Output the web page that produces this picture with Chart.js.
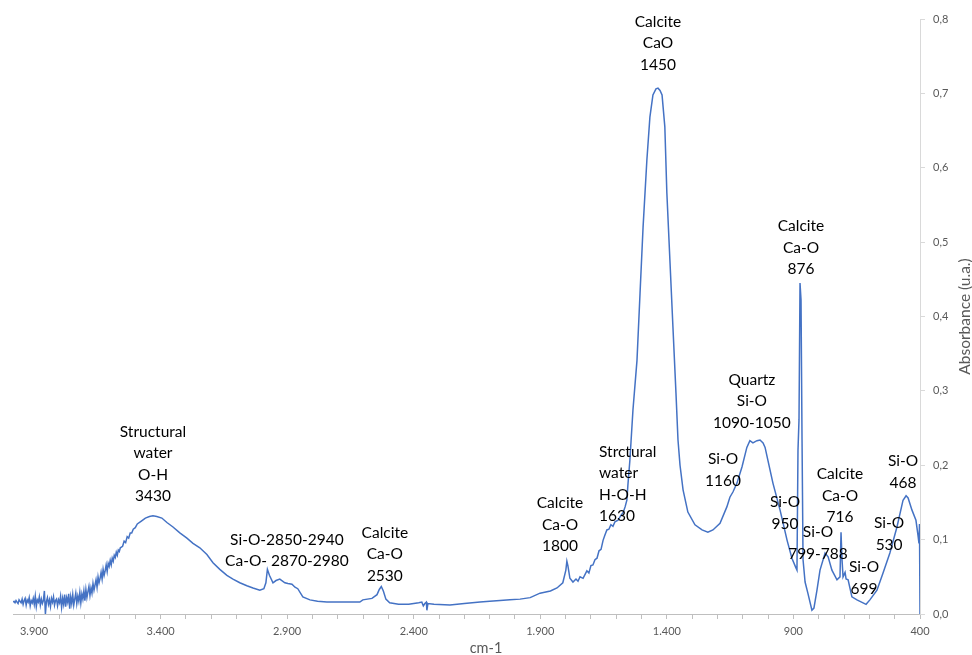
<!DOCTYPE html>
<html>
<head>
<meta charset="utf-8">
<script src="https://cdn.jsdelivr.net/npm/chart.js@4.4.1/dist/chart.umd.min.js"></script>
<style>
  html, body { margin: 0; padding: 0; background: #ffffff; }
  canvas { display: block; }
</style>
</head>
<body>
<canvas id="spectrum" width="972" height="655"></canvas>
<script>
// FTIR spectrum: wavenumber (cm-1) and absorbance (u.a.)
const wavenumbers = [
  3983, 3979, 3975, 3971, 3967, 3963, 3959, 3955, 3951, 3947, 3943, 3939, 3935, 3931, 3927, 3923,
  3919, 3915, 3911, 3907, 3903, 3899, 3895, 3891, 3887, 3883, 3879, 3875, 3871, 3867, 3863, 3859,
  3855, 3851, 3847, 3843, 3839, 3835, 3831, 3827, 3823, 3819, 3815, 3811, 3807, 3803, 3799, 3795,
  3791, 3787, 3783, 3779, 3775, 3771, 3767, 3763, 3759, 3755, 3751, 3747, 3743, 3739, 3735, 3731,
  3727, 3723, 3719, 3715, 3711, 3707, 3703, 3699, 3695, 3691, 3687, 3683, 3679, 3675, 3671, 3667,
  3663, 3659, 3655, 3651, 3647, 3643, 3639, 3635, 3631, 3627, 3623, 3619, 3615, 3611, 3607, 3603,
  3599, 3595, 3591, 3587, 3583, 3579, 3575, 3571, 3567, 3563, 3559, 3550, 3544, 3538, 3532, 3526,
  3520, 3514, 3508, 3500, 3492, 3476, 3460,
  3444, 3430, 3415, 3395, 3375, 3351, 3324, 3296, 3272, 3245, 3217, 3193, 3166, 3138, 3114, 3087,
  3059, 3035, 3008, 2992, 2984, 2978, 2970, 2956, 2944, 2929, 2909, 2897, 2881, 2869, 2858, 2838,
  2810, 2780, 2743, 2700, 2672, 2613, 2601, 2565, 2545, 2536, 2528, 2520, 2510, 2495, 2460, 2420,
  2380, 2368, 2362, 2356, 2350, 2348, 2344, 2320, 2257, 2200, 2138, 2100, 2059, 2020, 1980, 1940,
  1901, 1860, 1834, 1811, 1799, 1795, 1791, 1783, 1771, 1759, 1751, 1743, 1731, 1716, 1708, 1700,
  1692, 1684, 1676, 1668, 1660, 1652, 1645, 1637, 1629, 1621, 1613, 1605, 1593, 1581, 1573, 1565,
  1558, 1554, 1546, 1534, 1518, 1506, 1494, 1479, 1467, 1455, 1443, 1435, 1427, 1419, 1408, 1400,
  1388, 1376, 1364, 1356, 1348, 1336, 1317, 1289, 1261, 1238, 1218, 1190, 1163, 1151, 1139, 1123,
  1103, 1084, 1072, 1060, 1044, 1032, 1020, 1012, 1001, 981, 953, 925, 906, 890, 886, 882,
  878, 874, 870, 866, 862, 854, 843, 827, 819, 807, 795, 775, 763, 748, 728, 716,
  712, 708, 704, 696, 692, 684, 669, 649, 625, 613, 598, 570, 546, 519, 491, 467,
  455, 447, 432, 416, 408, 404, 402, 400
];

const absorbance = [
  0.016, 0.017, 0.015, 0.018, 0.016, 0.014, 0.019, 0.017, 0.015, 0.020, 0.013, 0.018, 0.021, 0.012, 0.019, 0.016,
  0.022, 0.011, 0.018, 0.015, 0.021, 0.013, 0.024, 0.010, 0.019, 0.016, 0.023, 0.012, 0.020, 0.014, 0.018, 0.031,
  0.000, 0.017, 0.022, 0.013, 0.019, 0.010, 0.021, 0.016, 0.023, 0.012, 0.018, 0.020, 0.011, 0.019, 0.015, 0.024,
  0.009, 0.021, 0.013, 0.026, 0.010, 0.022, 0.016, 0.027, 0.007, 0.023, 0.014, 0.026, 0.012, 0.020, 0.028, 0.014,
  0.024, 0.017, 0.029, 0.015, 0.027, 0.020, 0.031, 0.018, 0.033, 0.022, 0.030, 0.037, 0.025, 0.035, 0.028, 0.041,
  0.032, 0.039, 0.046, 0.036, 0.050, 0.042, 0.048, 0.056, 0.047, 0.060, 0.052, 0.058, 0.066, 0.057, 0.068, 0.064,
  0.072, 0.066, 0.075, 0.071, 0.079, 0.076, 0.083, 0.079, 0.086, 0.084, 0.089, 0.091, 0.098, 0.096, 0.104, 0.102,
  0.109, 0.109, 0.114, 0.116, 0.121, 0.125, 0.129,
  0.131, 0.132, 0.131, 0.129, 0.123, 0.117, 0.109, 0.102, 0.095, 0.089, 0.080, 0.069, 0.060, 0.052, 0.047, 0.042,
  0.038, 0.035, 0.032, 0.034, 0.042, 0.060, 0.052, 0.042, 0.045, 0.047, 0.042, 0.041, 0.040, 0.036, 0.034, 0.023,
  0.019, 0.017, 0.016, 0.016, 0.016, 0.016, 0.019, 0.021, 0.026, 0.033, 0.037, 0.031, 0.020, 0.015, 0.013, 0.013,
  0.015, 0.016, 0.011, 0.014, 0.016, 0.005, 0.014, 0.013, 0.012, 0.014, 0.016, 0.017, 0.018, 0.019, 0.020, 0.022,
  0.028, 0.031, 0.035, 0.042, 0.059, 0.071, 0.065, 0.048, 0.043, 0.047, 0.044, 0.050, 0.048, 0.058, 0.055, 0.065,
  0.066, 0.073, 0.075, 0.085, 0.087, 0.099, 0.106, 0.113, 0.114, 0.120, 0.118, 0.124, 0.126, 0.133, 0.136, 0.144,
  0.153, 0.173, 0.207, 0.274, 0.341, 0.431, 0.520, 0.610, 0.668, 0.698, 0.706, 0.707, 0.704, 0.698, 0.655, 0.566,
  0.476, 0.386, 0.297, 0.234, 0.200, 0.167, 0.137, 0.120, 0.113, 0.110, 0.113, 0.122, 0.144, 0.157, 0.164, 0.176,
  0.198, 0.224, 0.233, 0.230, 0.233, 0.234, 0.230, 0.224, 0.207, 0.176, 0.140, 0.099, 0.075, 0.062, 0.059, 0.220,
  0.261, 0.445, 0.422, 0.234, 0.073, 0.043, 0.028, 0.005, 0.008, 0.032, 0.059, 0.082, 0.077, 0.059, 0.046, 0.050,
  0.110, 0.073, 0.050, 0.056, 0.047, 0.046, 0.023, 0.019, 0.015, 0.013, 0.019, 0.032, 0.055, 0.082, 0.117, 0.153,
  0.159, 0.156, 0.140, 0.126, 0.106, 0.095, 0.121, 0.000
];

// labelled tick positions on the wavenumber axis
const xLabelTicks = [3900, 3400, 2900, 2400, 1900, 1400, 900, 400];
// absorbance axis ticks
const yTicks = [0, 0.1, 0.2, 0.3, 0.4, 0.5, 0.6, 0.7, 0.8];

// band assignments, anchored at (wavenumber, absorbance) of the first text line
const bandLabels = [
  { lines: ['Structural', 'water', 'O-H', '3430'], wn: 3430, abs: 0.245 },
  { lines: ['Si-O-2850-2940', 'Ca-O- 2870-2980'], wn: 2901, abs: 0.0995 },
  { lines: ['Calcite', 'Ca-O', '2530'], wn: 2514, abs: 0.109 },
  { lines: ['Calcite', 'Ca-O', '1800'], wn: 1822, abs: 0.149 },
  { lines: ['Strctural', 'water', 'H-O-H', '1630'], wn: 1668, abs: 0.218, align: 'left' },
  { lines: ['Calcite', 'CaO', '1450'], wn: 1435, abs: 0.796 },
  { lines: ['Quartz', 'Si-O', '1090-1050'], wn: 1064, abs: 0.315 },
  { lines: ['Si-O', '1160'], wn: 1178, abs: 0.208 },
  { lines: ['Si-O', '950'], wn: 933, abs: 0.1505 },
  { lines: ['Calcite', 'Ca-O', '876'], wn: 870, abs: 0.5215 },
  { lines: ['Si-O', '799-788'], wn: 803, abs: 0.110 },
  { lines: ['Calcite', 'Ca-O', '716'], wn: 716, abs: 0.188 },
  { lines: ['Si-O', '699'], wn: 621, abs: 0.063 },
  { lines: ['Si-O', '530'], wn: 522, abs: 0.122 },
  { lines: ['Si-O', '468'], wn: 467, abs: 0.2056 }
];

const X_MIN = 400, X_MAX = 3983;
const minorStep = 100;

function formatWavenumber(v) {
  if (v >= 1000) {
    const th = Math.floor(v / 1000);
    return th + '.' + String(v % 1000).padStart(3, '0');
  }
  return String(v);
}

const bandLabelPlugin = {
  id: 'bandLabels',
  afterDraw(chart) {
    const { ctx, scales: { x, y }, chartArea } = chart;
    ctx.save();
    ctx.font = '15.5px Lato';
    ctx.fillStyle = '#000000';
    ctx.textBaseline = 'middle';
    bandLabels.forEach(lbl => {
      const px = x.getPixelForValue(lbl.wn);
      const py = y.getPixelForValue(lbl.abs);
      ctx.textAlign = lbl.align || 'center';
      lbl.lines.forEach((t, i) => ctx.fillText(t, px, py + i * 21.5));
    });

    // axis titles
    ctx.fillStyle = '#595959';
    ctx.font = '14.5px Lato';
    ctx.textAlign = 'center';
    ctx.fillText('cm-1', chart.width / 2, chart.height - 7);
    ctx.font = '15.5px Lato';
    ctx.translate(chart.width - 7, (chartArea.top + chartArea.bottom) / 2);
    ctx.rotate(-Math.PI / 2);
    ctx.fillText('Absorbance (u.a.)', 0, 0);
    ctx.restore();
  }
};

new Chart(document.getElementById('spectrum'), {
  type: 'line',
  data: {
    datasets: [{
      data: wavenumbers.map((w, i) => ({ x: w, y: absorbance[i] })),
      borderColor: '#4472C4',
      borderWidth: 1.5,
      pointRadius: 0,
      tension: 0,
      fill: false
    }]
  },
  options: {
    responsive: false,
    devicePixelRatio: 1,
    animation: false,
    layout: { padding: { left: 13, top: 19, right: 0, bottom: 0 } },
    plugins: {
      legend: { display: false },
      tooltip: { enabled: false }
    },
    scales: {
      x: {
        type: 'linear',
        reverse: true,
        min: X_MIN,
        max: X_MAX,
        afterBuildTicks(scale) {
          const ticks = [];
          for (let v = X_MIN; v <= 3900; v += minorStep) ticks.push({ value: v });
          scale.ticks = ticks;
        },
        afterFit(scale) { scale.height = 41; },
        ticks: {
          autoSkip: false,
          maxRotation: 0,
          padding: 6,
          color: '#595959',
          font: { family: 'Lato', size: 11 },
          callback: (v) => xLabelTicks.includes(v) ? formatWavenumber(v) : ''
        },
        grid: { drawOnChartArea: false, tickLength: 5, color: '#bfbfbf' },
        border: { display: true, color: '#bfbfbf' }
      },
      y: {
        position: 'right',
        min: 0,
        max: 0.8,
        afterBuildTicks(scale) { scale.ticks = yTicks.map(v => ({ value: v })); },
        afterFit(scale) { scale.width = 52; },
        ticks: {
          padding: 8,
          color: '#595959',
          font: { family: 'Lato', size: 11 },
          callback: (v) => v.toFixed(1).replace('.', ',')
        },
        grid: { drawOnChartArea: false, tickLength: 5, color: '#d9d9d9' },
        border: { display: true, color: '#d9d9d9' }
      }
    }
  },
  plugins: [bandLabelPlugin]
});
</script>
</body>
</html>
